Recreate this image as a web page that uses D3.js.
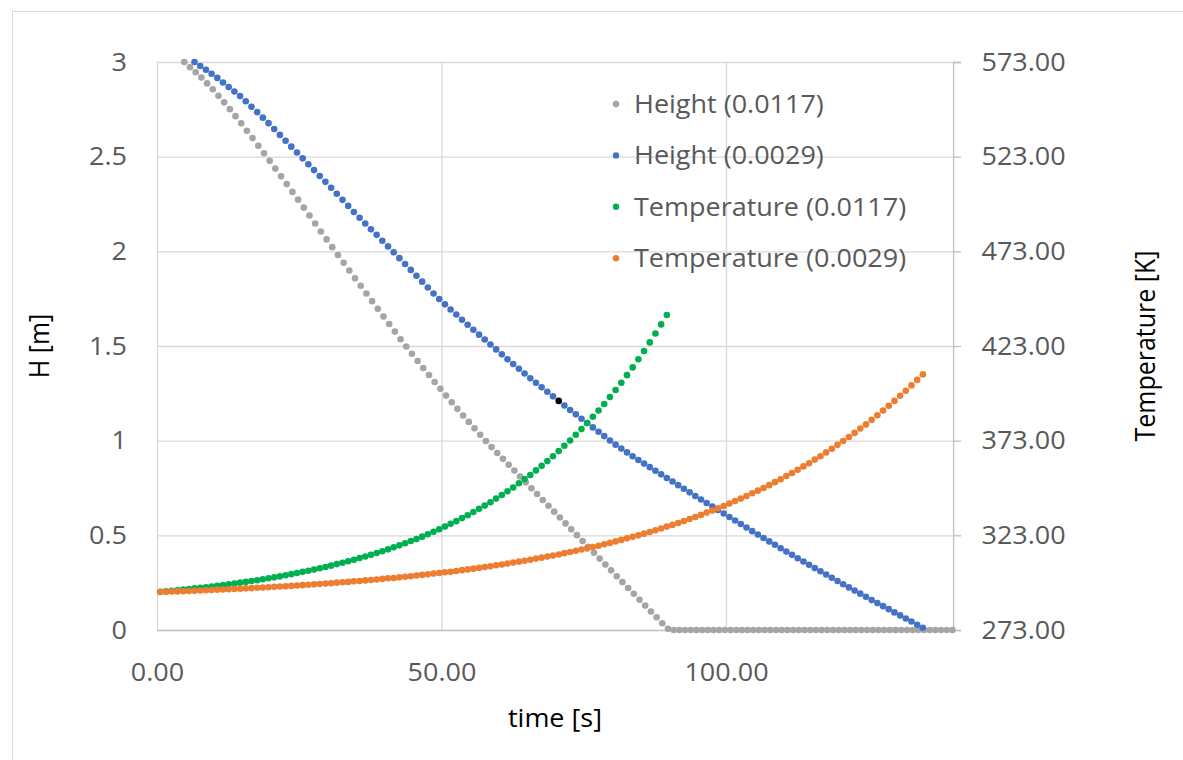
<!DOCTYPE html>
<html>
<head>
<meta charset="utf-8">
<script src="https://cdn.jsdelivr.net/npm/d3@7"></script>
<style>
  body { margin: 0; background: #fff; }
  svg { display: block; font-family: "Open Sans", sans-serif; }
</style>
</head>
<body>
<script>
// ---- data (samples 1 s apart) ----
var heightFastStart = 4.8;   // Height (0.0117) [m]
var heightFast = [
  3.000,2.972,2.946,2.918,2.887,2.856,2.822,2.787,2.751,2.714,
  2.676,2.637,2.598,2.558,2.518,2.478,2.437,2.396,2.355,2.314,
  2.273,2.231,2.189,2.147,2.105,2.063,2.022,1.981,1.940,1.899,
  1.858,1.818,1.777,1.737,1.697,1.656,1.616,1.576,1.536,1.497,
  1.459,1.421,1.384,1.347,1.310,1.274,1.238,1.203,1.168,1.133,
  1.099,1.065,1.031,0.998,0.966,0.935,0.904,0.873,0.842,0.811,
  0.780,0.749,0.718,0.687,0.656,0.625,0.594,0.563,0.532,0.501,
  0.470,0.439,0.408,0.377,0.346,0.315,0.284,0.253,0.222,0.191,
  0.160,0.129,0.098,0.067,0.036,0.006,
  0,0,0,0,0,0,0,0,0,0,
  0,0,0,0,0,0,0,0,0,0,
  0,0,0,0,0,0,0,0,0,0,
  0,0,0,0,0,0,0,0,0,0,
  0,0,0,0,0,0,0,0,0,0
];

var heightSlowStart = 6.6;   // Height (0.0029) [m]
var heightSlow = [
  3.000,2.979,2.959,2.938,2.916,2.892,2.868,2.844,2.820,2.793,
  2.764,2.735,2.706,2.677,2.646,2.615,2.584,2.553,2.522,2.491,
  2.460,2.429,2.398,2.367,2.336,2.304,2.272,2.240,2.208,2.177,
  2.147,2.117,2.087,2.056,2.026,1.995,1.964,1.933,1.902,1.871,
  1.840,1.809,1.777,1.748,1.720,1.693,1.666,1.639,1.612,1.586,
  1.560,1.534,1.508,1.482,1.456,1.430,1.405,1.380,1.355,1.330,
  1.306,1.282,1.258,1.234,1.210,1.186,1.162,1.139,1.116,1.093,
  1.070,1.047,1.024,1.001,0.979,0.958,0.938,0.918,0.898,0.879,
  0.860,0.841,0.822,0.803,0.784,0.765,0.746,0.727,0.708,0.689,
  0.671,0.652,0.634,0.615,0.597,0.578,0.560,0.541,0.522,0.504,
  0.486,0.468,0.450,0.432,0.414,0.397,0.379,0.362,0.344,0.327,
  0.310,0.293,0.276,0.259,0.242,0.225,0.208,0.192,0.175,0.158,
  0.142,0.126,0.110,0.093,0.077,0.061,0.045,0.028,0.012
];
var highlightIndex = 64;     // the one black point on the blue series

var tempFastStart = 0.6;     // Temperature (0.0117) [K]
var tempFast = [
  293.2,293.4,293.7,294.0,294.3,294.6,295.0,295.3,295.6,296.0,
  296.4,296.7,297.1,297.5,298.0,298.4,298.9,299.3,299.8,300.3,
  300.8,301.3,301.9,302.5,303.1,303.7,304.3,304.9,305.6,306.3,
  307.0,307.8,308.5,309.3,310.1,311.0,311.8,312.7,313.7,314.6,
  315.6,316.7,317.7,318.8,320.0,321.1,322.3,323.6,324.9,326.2,
  327.6,329.1,330.5,332.1,333.6,335.3,337.0,338.7,340.5,342.4,
  344.3,346.3,348.3,350.5,352.7,354.9,357.3,359.7,362.2,364.8,
  367.5,370.3,373.1,376.1,379.1,382.3,385.6,388.9,392.4,396.0,
  399.8,403.6,407.6,411.7,416.0,420.3,424.9,429.6,434.4,439.4
];

var tempSlowStart = 0.6;     // Temperature (0.0029) [K]
var tempSlow = [
  293.1,293.2,293.3,293.4,293.5,293.6,293.7,293.9,294.0,294.1,
  294.3,294.4,294.5,294.7,294.8,295.0,295.1,295.3,295.4,295.6,
  295.8,296.0,296.1,296.3,296.5,296.7,296.9,297.1,297.3,297.5,
  297.7,298.0,298.2,298.4,298.7,298.9,299.2,299.4,299.7,300.0,
  300.3,300.5,300.8,301.1,301.4,301.8,302.1,302.4,302.8,303.1,
  303.5,303.8,304.2,304.6,305.0,305.4,305.8,306.3,306.7,307.2,
  307.6,308.1,308.6,309.1,309.6,310.1,310.7,311.2,311.8,312.3,
  312.9,313.6,314.2,314.8,315.5,316.1,316.8,317.5,318.3,319.0,
  319.8,320.6,321.4,322.2,323.0,323.9,324.8,325.7,326.6,327.6,
  328.5,329.5,330.6,331.6,332.7,333.8,335.0,336.1,337.3,338.5,
  339.8,341.1,342.4,343.8,345.2,346.6,348.0,349.5,351.1,352.6,
  354.3,355.9,357.6,359.4,361.1,363.0,364.8,366.8,368.7,370.8,
  372.8,374.9,377.1,379.4,381.6,384.0,386.4,388.9,391.4,394.0,
  396.7,399.4,402.2,405.1,408.0
];

var timeTicks = [0, 50, 100];
var heightTicks = [0, 0.5, 1, 1.5, 2, 2.5, 3];
var tempTicks = [273, 323, 373, 423, 473, 523, 573];
var legendNames = ['Height (0.0117)', 'Height (0.0029)', 'Temperature (0.0117)', 'Temperature (0.0029)'];
var colors = ['#a5a5a5', '#4472c4', '#00b050', '#ed7d31'];

// ---- setup ----
var svgWidth = 1183;
var svgHeight = 760;
var stretch = 1.08;   // text in the reference is widened a bit
var fontSize = 25;

var svg = d3.select('body')
    .append('svg')
    .attr('width', svgWidth)
    .attr('height', svgHeight);

svg.append('rect')
    .attr('x', 12.5)
    .attr('y', 11.5)
    .attr('width', 1200)
    .attr('height', 800)
    .attr('fill', '#fff')
    .attr('stroke', '#d9d9d9');

var x = d3.scaleLinear().domain([0, 140]).range([157, 953.6]);
var yH = d3.scaleLinear().domain([0, 3]).range([630, 62]);
var yT = d3.scaleLinear().domain([273, 573]).range([630, 62]);

// gridlines
svg.append('g')
    .selectAll('line')
    .data(heightTicks.slice(1))
    .enter()
    .append('line')
        .attr('x1', x(0))
        .attr('x2', x(140))
        .attr('y1', function (d) { return yH(d) + 0.5; })
        .attr('y2', function (d) { return yH(d) + 0.5; })
        .attr('stroke', '#d9d9d9')
        .attr('stroke-width', 1.3);

svg.append('g')
    .selectAll('line')
    .data(timeTicks)
    .enter()
    .append('line')
        .attr('x1', function (d) { return x(d) + 0.5; })
        .attr('x2', function (d) { return x(d) + 0.5; })
        .attr('y1', yH(3))
        .attr('y2', yH(0))
        .attr('stroke', '#d9d9d9')
        .attr('stroke-width', 1.3);

// bottom axis line
svg.append('line')
    .attr('x1', x(0))
    .attr('x2', x(140))
    .attr('y1', yH(0) + 0.5)
    .attr('y2', yH(0) + 0.5)
    .attr('stroke', '#bfbfbf')
    .attr('stroke-width', 1.3);

function styleTicks(g, dx, anchor) {
    g.attr('font-size', null).attr('font-family', null);
    g.selectAll('text')
        .attr('x', dx / stretch)
        .attr('transform', 'scale(' + stretch + ',1)')
        .attr('text-anchor', anchor)
        .attr('font-size', fontSize)
        .attr('fill', '#595959');
}

// left axis (labels only)
var leftAxis = svg.append('g')
    .attr('transform', 'translate(' + x(0) + ',0)')
    .call(d3.axisLeft(yH).tickValues(heightTicks).tickSize(0)
        .tickFormat(function (d) { return String(d); }));
leftAxis.select('.domain').remove();
styleTicks(leftAxis, -30, 'end');

// right axis
var rightAxis = svg.append('g')
    .attr('transform', 'translate(' + (x(140) - 0.5) + ',0)')
    .call(d3.axisRight(yT).tickValues(tempTicks).tickSize(8).tickFormat(d3.format('.2f')));
rightAxis.select('.domain').attr('stroke', '#bfbfbf').attr('stroke-width', 1.3);
rightAxis.selectAll('.tick line').attr('stroke', '#bfbfbf').attr('stroke-width', 1.3);
styleTicks(rightAxis, 28.4, 'start');

// bottom axis (labels only)
var bottomAxis = svg.append('g')
    .attr('transform', 'translate(0,' + yH(0) + ')')
    .call(d3.axisBottom(x).tickValues(timeTicks).tickSize(0).tickFormat(d3.format('.2f')));
bottomAxis.select('.domain').remove();
styleTicks(bottomAxis, 0, 'middle');
bottomAxis.selectAll('text').attr('y', 33);

// axis titles
function addText(px, py, str, rotate, anchor, color, size) {
    var t = 'translate(' + px + ',' + py + ') scale(' + stretch + ',1)';
    if (rotate) t += ' rotate(-90)';
    return svg.append('text')
        .attr('transform', t)
        .attr('text-anchor', anchor)
        .attr('font-size', size)
        .attr('fill', color)
        .text(str);
}
addText(555, 727, 'time [s]', false, 'middle', '#000', fontSize);
addText(49, 346, 'H [m]', true, 'middle', '#000', fontSize);
addText(1155, 346, 'Temperature [K]', true, 'middle', '#000', fontSize);

// series
function points(values, start) {
    return values.map(function (v, i) { return { t: start + i, v: v, i: i }; });
}

var series = [
    { pts: points(heightFast, heightFastStart), y: yH, color: colors[0] },
    { pts: points(heightSlow, heightSlowStart), y: yH, color: colors[1] },
    { pts: points(tempFast, tempFastStart), y: yT, color: colors[2] },
    { pts: points(tempSlow, tempSlowStart), y: yT, color: colors[3] }
];

series.forEach(function (s, k) {
    svg.append('g')
        .selectAll('circle')
        .data(s.pts)
        .enter()
        .append('circle')
            .attr('cx', function (d) { return x(d.t); })
            .attr('cy', function (d) { return s.y(d.v); })
            .attr('r', 3.3)
            .attr('fill', function (d) {
                return (k === 1 && d.i === highlightIndex) ? '#000' : s.color;
            });
});

// legend
var legend = svg.append('g');
legendNames.forEach(function (name, i) {
    var ly = 104 + i * 51.4;
    legend.append('circle')
        .attr('cx', 616)
        .attr('cy', ly)
        .attr('r', 3.2)
        .attr('fill', colors[i]);
    legend.append('text')
        .attr('transform', 'translate(634,' + ly + ') scale(' + stretch + ',1)')
        .attr('dy', '0.35em')
        .attr('font-size', fontSize)
        .attr('fill', '#595959')
        .text(name);
});
</script>
</body>
</html>
